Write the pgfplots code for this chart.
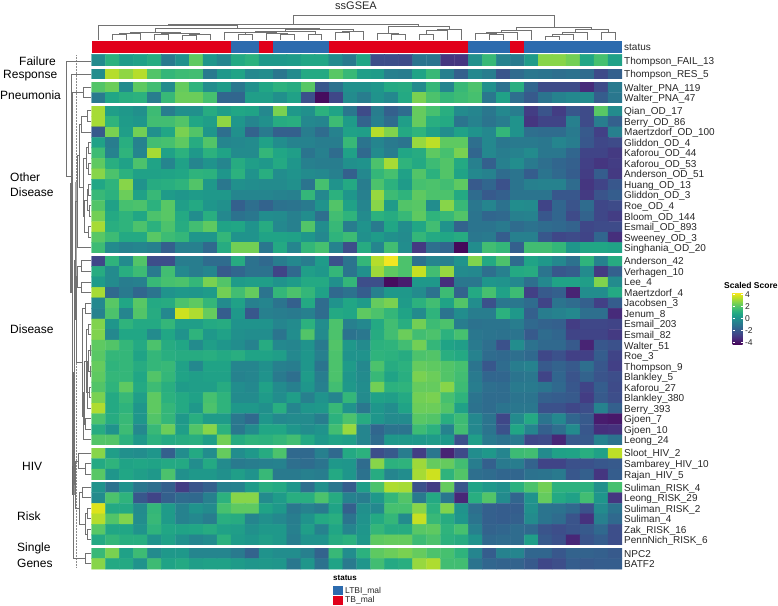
\documentclass[border=0pt]{standalone}
\usepackage{pgfplots}
\pgfplotsset{compat=1.18}
\usepackage{fontspec}
\setmainfont{Liberation Sans}
\definecolor{tbred}{HTML}{E1001A}
\definecolor{ltbiblue}{HTML}{2C6BAE}
\definecolor{dendc}{HTML}{727272}
\tikzset{dend/.style={draw=dendc,line width=0.7pt,line join=miter}}
% top dendrogram bracket: x1,ybottom1,x2,ybottom2,ytop
\newcommand\br[5]{\draw[dend] (#1,#2)--(#1,#5)--(#3,#5)--(#3,#4);}
% left dendrogram bracket: y1,x1,y2,x2,xnode
\newcommand\lb[5]{\draw[dend] (#2,#1)--(#5,#1)--(#5,#3)--(#4,#3);}
\newcommand\rl[2]{\node[anchor=base west,inner sep=0pt,text=black!85,font=\fontsize{10}{12}\selectfont] at (624,{#1+3.7}) {#2};}
\newcommand\gl[3]{\node[anchor=west,inner sep=0pt,text=black,font=\fontsize{12}{14}\selectfont] at (#1,#2) {#3};}
\newcommand\RR{floor((\coordindex+0.1)/38)}
\newcommand\wg[1]{\fill[white] (90,#1) rectangle (623,{#1+2.66});}
\begin{document}
\begin{tikzpicture}
\begin{axis}[
  at={(0pt,0pt)},anchor=south west,
  scale only axis,width=778pt,height=605pt,
  xmin=0,xmax=778,ymin=0,ymax=605,y dir=reverse,
  hide axis,clip=false,
  colormap/viridis,point meta min=-4.35,point meta max=4.35,
  colorbar,
  colorbar style={
    at={(724pt,312.7pt)},anchor=north west,
    width=10pt,height=52.5pt,scale only axis,
    ytick={-4,-2,0,2,4},
    /pgf/number format/assume math mode=true,
    yticklabel style={font=\fontsize{8.5}{10}\selectfont,text=black!85,xshift=-1pt,
      /pgf/number format/fixed,/pgf/number format/assume math mode=true},
    yticklabel={\pgfmathprintnumber{\tick}},
    major tick length=2pt,
    tick style={white,line width=0.4pt},
    axis line style={draw=none},
  },
]
\path (0,0) rectangle (778,605);
% heat map: 47 signatures x 38 samples, read row by row
\addplot[matrix plot*,mesh/cols=38,point meta=explicit] table[row sep=\\,header=false,meta index=0,
  x expr={98.48+13.96*(\coordindex-38*\RR)},
  y expr={60.9+10.53*\RR+2.65*((\RR>=1)+(\RR>=2)+(\RR>=4)+(\RR>=18)+(\RR>=36)+(\RR>=39)+(\RR>=45))}]{
-0.2\\1.2\\0.4\\0.6\\1.0\\-0.8\\0\\2.2\\0.2\\-0.4\\0.9\\1.2\\0.3\\0.3\\0.4\\0.8\\0.8\\-0.2\\-0.8\\0.8\\-2.3\\-2.3\\-2.4\\-1.0\\-1.0\\-3\\-3\\0\\1.5\\-0.5\\-0.8\\0.4\\2.8\\2.8\\2.5\\0.8\\1.8\\0.6\\
-0.1\\3.4\\2.9\\3.4\\2.0\\1.4\\1.6\\1.7\\-0.8\\0.3\\0.7\\-0.3\\-0.1\\-0.9\\-0.2\\0.9\\0.9\\2.1\\1.5\\0.5\\0.4\\-0.6\\-0.7\\0.7\\1.5\\-0.6\\-1.7\\-0.3\\-0.7\\-2.1\\-1.3\\-0.9\\-1\\-1.2\\-1.1\\-1.3\\-2.4\\-1.7\\
2.0\\2.4\\-0.2\\2.2\\1.7\\-0.2\\2.3\\1.3\\-0.1\\0.4\\-0.9\\0\\0.8\\1.2\\1.0\\2.1\\-2.0\\-1.1\\0\\0\\0.2\\0.9\\1.0\\-0.2\\1.4\\-0.4\\1.5\\1.9\\0\\-1.1\\1.1\\-1.5\\-2.4\\-2.4\\-2.4\\-3.3\\-2.4\\-0.8\\
-0.8\\0.8\\1.1\\1.2\\-0.7\\1.5\\2.4\\2.4\\1.8\\-1.5\\-1.5\\0.5\\0.5\\0\\0.6\\-2.2\\-4.1\\-2.5\\-0.2\\-0.7\\0.1\\-0.3\\0.9\\2.6\\1.9\\1.4\\1.6\\1.8\\-0.9\\0.6\\-1.2\\-1.9\\-1.0\\-0.5\\-0.3\\-0.2\\-1.8\\-0.9\\
3.2\\0.5\\0.3\\0\\1.6\\-0.7\\0\\0\\1.0\\0.5\\0.8\\0.7\\-0.3\\2.6\\0.3\\0\\1.2\\0.7\\-0.9\\-2.4\\-0.7\\-1.7\\-1.3\\2.3\\1.8\\1.1\\-0.2\\-0.4\\-0.9\\-0.3\\-0.7\\-2.8\\-2.1\\-2.8\\-2\\-2.4\\2.1\\-0.2\\
3.2\\1.3\\0.4\\0.2\\1.7\\1.7\\2.0\\0.8\\0.5\\2.9\\0.2\\-0.4\\0\\1\\1.1\\-0.3\\-0.4\\1.6\\0.4\\-1.6\\-0.6\\-1.3\\0.5\\2.3\\1.1\\0.9\\-1\\-0.5\\-1\\-0.7\\0.1\\-3\\-2.6\\-2.6\\-0.6\\-2.4\\-0.7\\-1.7\\
-1.9\\2.6\\0.5\\2.5\\0\\0.8\\2.6\\2.0\\0.2\\-1.2\\0\\-1.6\\-0.8\\-1.7\\-1.7\\-0.7\\-1.3\\-0.5\\0.6\\0.5\\3.4\\2.7\\0.9\\1.3\\0.6\\-0.1\\0.6\\0.1\\-0.3\\1.4\\0.1\\-1.2\\-1.3\\-1.3\\-0.8\\-1.9\\-2.7\\-0.6\\
0.6\\-0.7\\1.1\\-0.5\\1.7\\1.8\\2.2\\1.0\\2.0\\-0.4\\-0.3\\-0.2\\0.6\\-0.1\\-0.5\\-0.5\\-0.7\\-0.7\\1.5\\-1\\-0.4\\-0.8\\-1.0\\3.0\\3.5\\2.2\\2.2\\-1.2\\-0.3\\-0.9\\-0.8\\-0.8\\-0.9\\-0.4\\-0.7\\-2.0\\-2.5\\-2.4\\
1.6\\-0.5\\1.3\\-0.4\\3.2\\0.6\\1.2\\0.3\\1.2\\0.7\\-0.2\\-0.2\\1.4\\0.8\\0.5\\-1\\-0.6\\-1.3\\0.6\\-1.4\\-0.2\\-0.7\\0.8\\1.0\\2.2\\1.8\\2.6\\-1.5\\-0.3\\-0.7\\-0.5\\-0.2\\-0.9\\-0.9\\-1.5\\-2.6\\-2.6\\-2.9\\
2.2\\1.1\\0.6\\1.9\\0.7\\-0.4\\0.6\\-0.4\\0.1\\-0.4\\1.0\\0.5\\0.3\\0.9\\0.2\\-0.6\\-0.7\\-0.7\\0\\0.1\\1.9\\3.2\\1.3\\0.9\\1.6\\2\\0.9\\-0.6\\-1.7\\-0.6\\-0.1\\-0.8\\-1.2\\-1.5\\-1.7\\-2.7\\-3\\-2.8\\
2.8\\1.9\\1.2\\0.6\\0.6\\0.7\\0.8\\1.3\\1.2\\0.2\\1.2\\0.1\\1.1\\-0.1\\0.1\\-0.2\\-0.3\\-0.6\\-1.7\\-0.3\\1.4\\1.8\\0.6\\2.0\\1.2\\2\\0.7\\-0.3\\-0.5\\-1.3\\-1\\-1.8\\-1.0\\-1.4\\-1.8\\-2.8\\-1.8\\-2.9\\
0.8\\1.3\\2.8\\0.1\\1\\1.1\\1.3\\2.0\\0.3\\-0.9\\0\\-0.1\\-0.2\\-0.2\\0\\-1\\1.8\\0.1\\0.9\\-0.7\\1.9\\1.2\\0.4\\1.8\\1.9\\1.7\\2.2\\-1.9\\-1.5\\-2.2\\-1\\-0.6\\-0.5\\-0.5\\-1.3\\-3\\-2.6\\-2.0\\
1.5\\1.2\\2.4\\0.6\\1.5\\0.4\\0.2\\0.4\\0.3\\0.3\\-0.4\\-0.4\\-0.4\\-0.5\\-0.6\\1.4\\-0.3\\1.2\\0.2\\-0.6\\3.0\\1.6\\1.3\\2.2\\1.9\\1.9\\0.9\\-1.3\\-1.9\\-1.7\\-1\\-1.0\\-1\\-2\\-2\\-2.9\\-2.1\\-1.8\\
2.0\\0.6\\1.8\\1.9\\1.2\\2.1\\0.5\\0.9\\0.2\\0\\-1.7\\-1.2\\-1.6\\-1.1\\-1.0\\-0.8\\0.1\\2.0\\0.6\\-0.4\\2.8\\0.4\\2\\2.1\\-0.1\\2.8\\1.5\\-0.9\\-0.4\\-1.1\\-0.1\\-0.2\\-2.6\\-1.5\\-2.1\\-1.3\\-2.5\\-2.4\\
2.5\\0.9\\1.3\\0.8\\1.9\\2.1\\0.9\\-0.1\\1.1\\-0.3\\-1.1\\-0.9\\-0.1\\-0.2\\-0.6\\-0.1\\-1.2\\1.7\\1.3\\-0.2\\1.2\\1.0\\1.5\\2.2\\1.3\\1.5\\2\\-1\\-1.5\\-1.4\\-0.6\\-0.5\\-2\\-1.5\\-2.4\\-1.6\\-2.5\\-2.8\\
3.2\\1.1\\1.3\\1.9\\1.2\\1.9\\1.0\\1.7\\2.2\\0.7\\0.8\\0.1\\1.0\\-0.3\\-0.6\\2\\-0.1\\1.5\\-0.7\\0.1\\-0.8\\0.8\\-0.1\\0.8\\1.7\\0.1\\-1.6\\-1.0\\-1.0\\-0.8\\-1.3\\-1.1\\-1.3\\-1.4\\-1.6\\-2.5\\-2.4\\-2.4\\
2.1\\1.6\\0.9\\0.9\\2.1\\1.6\\1.4\\0.2\\0.2\\1.4\\0.1\\0.1\\0.7\\0.7\\0.6\\0.2\\-0.3\\1.3\\1.6\\0\\0.4\\0\\-0.2\\1.4\\0.9\\0.8\\1\\-0.9\\-0.8\\-1.8\\-0.6\\-0.6\\-2\\-2.5\\-2.4\\-2.6\\-1.5\\-3.2\\
1.6\\-0.2\\-0.5\\-0.4\\-0.6\\-1.7\\-0.6\\-0.6\\-1.4\\1.0\\2.5\\2.5\\-0.9\\0.9\\-0.4\\1.4\\1.8\\-0.5\\-2.3\\1.0\\-0.4\\1.7\\-0.1\\-2.9\\-1.2\\-1.5\\-4.2\\-0.1\\1.7\\1.4\\-1.7\\1.7\\1.7\\1.4\\0.2\\0.8\\0.8\\0.7\\
-2.5\\1.3\\-0.2\\2.0\\-2.3\\-2.3\\-0.7\\-0.7\\-1.3\\-1.3\\1.0\\-1.1\\-1.4\\-0.7\\-0.3\\-0.7\\0.4\\-2.2\\-1\\1.4\\3.4\\4.2\\1.9\\-1.1\\-0.4\\-0.6\\0.1\\2.7\\0.9\\1.9\\-1.3\\0.7\\0.3\\-0.3\\-1.1\\1.3\\-0.5\\1.0\\
1\\-0.2\\1.1\\1.6\\-0.8\\1.7\\-0.3\\-0.7\\-0.4\\-1.9\\-1.5\\-1.1\\-1.1\\-2.6\\-1.4\\0.5\\0.3\\1.4\\-1\\0\\3.1\\2.2\\1.9\\3.6\\1.7\\3.0\\-0.2\\-0.3\\-1.2\\-0.6\\0.9\\1.0\\-1.0\\-2\\-1.8\\-0.2\\-2.9\\-1.7\\
0.4\\-0.2\\-0.7\\-0.6\\1.5\\1.8\\1.9\\1.4\\2.6\\2.0\\0.4\\0.5\\0.5\\0.1\\0.4\\0.9\\0.9\\0\\1.4\\-2.3\\-2.3\\-4.1\\-3.7\\0.3\\0.3\\-3.2\\-0.9\\-0.9\\0.2\\0.1\\-0.3\\-1.2\\-0.3\\0.7\\0.7\\0.5\\2.7\\-0.2\\
3.2\\-1.4\\-0.8\\-1.5\\-1.0\\0.1\\0.3\\0.2\\0.4\\2.5\\1.7\\2.3\\-1\\1.4\\1.9\\1.4\\0.6\\-1.4\\-1.1\\-1.8\\-0.6\\0.3\\0.3\\-0.2\\-1.1\\1.6\\-1.6\\0.9\\1.8\\0.6\\1.6\\-2.7\\-1.9\\-1.7\\-3.5\\-0.1\\-0.1\\0.9\\
-0.3\\2.1\\0.8\\2.1\\0.9\\1\\1.9\\2.2\\1.4\\-0.2\\0.6\\-0.6\\-0.4\\-1\\-1.7\\0.9\\-1.3\\0.1\\0.8\\0.4\\2.3\\2.6\\0.4\\1.2\\1.7\\0.7\\2.0\\-0.1\\-2.2\\-0.9\\-0.9\\-1.3\\-2.6\\-1\\-1.3\\-1.7\\-2.7\\-1.8\\
-0.5\\1.9\\-0.4\\2.0\\1\\-0.3\\3.7\\3.3\\2.3\\-1.8\\0.3\\-2.0\\-0.6\\-0.7\\-0.8\\-0.6\\-1.3\\0.9\\0.8\\2.2\\1.9\\1.4\\0.7\\-0.2\\1.3\\-1\\-0.1\\-0.7\\-0.7\\1.2\\0.3\\-1.7\\-0.7\\-0.5\\-0.3\\-1.2\\-1.2\\-3.3\\
2.7\\0.2\\1.3\\0.9\\0.9\\1.4\\0.5\\0.5\\0.9\\1\\0.1\\0.1\\0.1\\-0.4\\-0.2\\1.2\\-0.1\\1.9\\-0.6\\-0.3\\0.9\\1.7\\1.1\\2.5\\1.6\\1.9\\-0.7\\-1.1\\-1\\-1.0\\-0.7\\-1.4\\-1.6\\-1.7\\-2.8\\-2.5\\-2.5\\-2.6\\
2.7\\-0.3\\0.8\\0.8\\-0.2\\0.8\\0.1\\1.3\\0.3\\0.6\\0\\-0.1\\-0.1\\-1\\-0.1\\2.0\\-0.2\\1.9\\-1.1\\-0.9\\1\\1.7\\2.4\\1.7\\1.9\\1.2\\1.8\\-0.9\\-1\\-1.1\\-1\\-1.9\\-1.3\\-1.5\\-2.6\\-2.6\\-2.6\\-2.9\\
2.2\\2.0\\1.4\\0.9\\1.9\\1.0\\0.8\\-0.2\\0.5\\0.2\\-0.1\\-0.5\\1.0\\-0.3\\-0.4\\0.1\\-0.8\\2.0\\0.3\\-0.2\\1.2\\1.3\\1.7\\2.5\\1.4\\0.7\\0.5\\-0.8\\-1.2\\-2.2\\-0.1\\-1.1\\-1.4\\-1.4\\-1.9\\-3.5\\-2\\-2.2\\
2.1\\1.4\\1.4\\0.7\\1.4\\1.1\\1\\1\\1.1\\0.9\\1.1\\0.7\\0.7\\0.5\\-0.3\\0.2\\-0.6\\1.9\\0.1\\0.1\\1.3\\1.2\\1.0\\1.9\\2.0\\1.1\\0.9\\-0.5\\-1.3\\-1.4\\-1.2\\-1.4\\-2.5\\-2.2\\-2.7\\-2.7\\-1.8\\-2.6\\
2.3\\1.3\\1.4\\1\\1.4\\1.5\\0.6\\-0.3\\0.7\\0.7\\-0.4\\-0.4\\0\\-0.6\\-0.7\\0.2\\-1\\1.9\\0.4\\-0.3\\1.9\\1.0\\1.2\\2.3\\2.2\\2.0\\1.8\\-1\\-2\\-1.3\\-0.7\\-0.5\\-1.9\\-1.6\\-1.9\\-1.2\\-2\\-2.7\\
2.2\\1.4\\1.4\\0.8\\2\\1.4\\0.7\\0.5\\0.6\\0.6\\-0.5\\-0.4\\0.1\\-0.8\\-1.2\\0.4\\-0.7\\1.9\\0.2\\-0.2\\1.5\\0.7\\1.1\\2.6\\2.4\\2\\1.7\\-0.8\\-1.5\\-1.5\\-1\\-0.9\\-2.6\\-1.5\\-2.1\\-1.6\\-2.1\\-2.3\\
2.0\\1.3\\2.2\\0.9\\1.6\\1.1\\0.4\\0.5\\0.5\\1.0\\-0.1\\-0.3\\0.6\\-0.2\\-0.6\\0.2\\-0.6\\1.7\\0.3\\-0.1\\2.5\\1.2\\1.3\\2.3\\2.3\\2.8\\1.6\\-0.7\\-1.2\\-1.3\\-0.8\\-0.8\\-1.0\\-1.4\\-2.0\\-2.6\\-1.8\\-2.4\\
2.6\\0.9\\1.5\\0.5\\2.2\\1.2\\0.9\\0.6\\1.8\\1.3\\-0.2\\-0.2\\0.4\\-0.1\\0.5\\-0.6\\0.1\\-0.4\\1.4\\-0.2\\0.6\\0.5\\0.9\\2.5\\2.6\\1.8\\1.3\\-1\\-1.3\\-1.3\\-1\\-1\\-1.7\\-1.8\\-1.9\\-2.8\\-1.9\\-2.3\\
3.3\\0.9\\1.3\\0.2\\2.2\\1.4\\0.9\\0.3\\1.9\\1.3\\0.3\\0.3\\0\\1.1\\-0.4\\0.2\\0.3\\1.5\\0.1\\-0.9\\0.2\\-0.1\\0.7\\2.4\\2.4\\2.0\\0.6\\-1.1\\-1.3\\-1\\-0.9\\-0.9\\-2.2\\-2.2\\-2.5\\-2.3\\-0.5\\-1.7\\
1.9\\1\\1.5\\0.2\\2\\1.4\\0.3\\1.1\\0.4\\0.4\\-0.9\\-1.4\\0.2\\-0.3\\-0.2\\-0.2\\-0.7\\1.2\\1.9\\1.0\\0.2\\-0.2\\-0.2\\2.1\\2\\1.1\\1.6\\-0.3\\-1\\-2.5\\-0.2\\0.9\\-1\\-0.3\\-1.5\\-1.9\\-3.7\\-3.8\\
1\\0.1\\1.6\\-0.3\\1.5\\2.4\\0.5\\2\\2.8\\1.2\\-0.9\\-0.2\\0.8\\0.8\\0.2\\-0.1\\0.1\\1.7\\3.0\\-0.4\\-1.5\\-1\\-1\\1.6\\1.2\\-0.5\\1.7\\-0.3\\-1\\-2.2\\0.8\\-0.4\\-1.7\\-1.2\\-0.2\\-2\\-3.2\\-3.1\\
2.0\\2\\1.2\\0.3\\1.2\\0.9\\1.0\\1.1\\0.5\\2.5\\1.0\\1.3\\1.2\\1.4\\1.7\\0.9\\0.3\\0.7\\0.5\\-0.4\\-1.3\\0.3\\0.3\\0.3\\0.4\\0.3\\-2.2\\0.5\\-0.8\\-1.1\\-0.8\\-2.5\\-2.4\\-3.4\\-1.9\\-1.9\\-0.5\\-1.1\\
2.8\\0.5\\0\\-0.1\\0.2\\-1.7\\-0.1\\0.9\\-0.1\\2.3\\-0.1\\0.3\\1.0\\1.9\\-1.4\\-1.4\\-0.6\\-1.4\\0.9\\1.2\\-2.3\\-1.9\\-0.7\\-2.8\\-0.9\\-3.5\\-2.4\\-0.1\\0.3\\-0.4\\1.6\\1.7\\-0.2\\0.6\\0.7\\1.1\\0.6\\3.5\\
0.9\\1.3\\0.7\\0.8\\0.7\\0.9\\0.9\\-0.1\\0.9\\-0.2\\-0.8\\-0.7\\-0.6\\-0.5\\-1.2\\-1.3\\-1.0\\0.3\\0.2\\-1.3\\2.8\\1.2\\1.3\\3.1\\2.3\\2.3\\1.7\\-0.7\\-1.7\\-0.8\\-0.7\\-1.6\\-2.6\\-2.6\\-2.2\\-2.2\\-2.0\\-1.9\\
2.1\\0.2\\0.8\\0.5\\0.3\\1.9\\0\\0.3\\0.3\\0\\0.5\\0.1\\1.5\\-0.8\\-0.8\\-0.6\\-0.7\\0.9\\0.2\\-1.1\\1\\-0.4\\-0.1\\3.2\\3.7\\1.3\\2\\-1.2\\-1.3\\-1.5\\-1.5\\-1.1\\-1\\-0.8\\-2\\-1.7\\-3\\-1.8\\
0.1\\-1.1\\0.1\\-0.9\\-1.2\\-1.7\\-2.8\\-2.1\\-1.7\\-0.6\\-0.5\\0.4\\1.1\\0.9\\0.2\\-1.2\\0\\-0.9\\-1.8\\0.5\\1.9\\3.3\\3.2\\-2.2\\-2.8\\2.3\\-2.0\\0.7\\0.3\\0\\1.2\\1.9\\2.5\\1.2\\1.2\\1.2\\0\\1.8\\
-0.2\\1.9\\1.3\\-2.0\\-2.6\\-1.7\\-1.3\\-1.4\\-0.6\\1.2\\2.8\\2.8\\-0.2\\0.4\\1.1\\1.1\\1.9\\1\\-0.5\\-0.7\\0.3\\1.4\\2.0\\-0.8\\0.9\\-0.9\\-3.4\\1.1\\2.0\\-0.2\\-1.5\\0.1\\2.3\\0.9\\0.6\\1.7\\0.2\\-3\\
3.9\\0.9\\0.9\\-0.2\\1.4\\0.4\\-0.5\\0.1\\-0.2\\1.8\\2.2\\2.2\\0.7\\0.3\\-0.9\\-0.5\\-0.8\\0.7\\-1.7\\0\\-0.3\\1.8\\1.8\\2.8\\1.2\\2.7\\0.1\\-1.2\\-1.7\\-1.8\\-1.8\\0\\-1\\-1.1\\-1.4\\-2.2\\-0.2\\-1.1\\
3.4\\2\\2.7\\-0.1\\1.5\\0.4\\-0.5\\-0.3\\-0.7\\1.1\\1.0\\-0.4\\0\\-0.3\\-0.7\\0.1\\0.9\\1.1\\-1\\0.1\\0.9\\1.4\\-0.2\\3.6\\1.5\\1.0\\0.2\\-1\\-1.7\\-1.8\\-1.7\\-0.2\\-1\\-1.3\\-2.1\\-3.1\\-0.6\\-1.4\\
2.1\\0.8\\0.8\\0.1\\1.3\\0.8\\0.7\\0.8\\1\\0.6\\0.5\\0\\0.3\\0.3\\-0.6\\0.5\\-0.5\\0.8\\-0.4\\0.2\\1.4\\1.0\\1.0\\2.1\\2.2\\1.3\\1.8\\-0.6\\-1.6\\-1.5\\-1.3\\-1.4\\-2.1\\-2.3\\-2.1\\-1.9\\-1.4\\-2.3\\
0.9\\1.4\\1.1\\1.1\\0.1\\0.6\\0\\-0.4\\-0.2\\1.2\\0.4\\0.2\\0.5\\0.3\\-0.7\\0.1\\0.1\\1\\1.2\\0.3\\2.2\\2.3\\2.3\\1.6\\1.9\\1.2\\1.0\\0.1\\-1.4\\-1.3\\-1.3\\0.5\\-1.9\\-2.2\\-3.4\\-2.1\\-1.8\\-2.3\\
1.5\\2.6\\0.6\\1.6\\-0.2\\0.3\\0.3\\-0.4\\-0.4\\-0.4\\-0.8\\-1.6\\0.1\\-0.1\\-0.1\\-0.6\\-1.6\\1.5\\-0.1\\1.2\\2.2\\2.4\\2.6\\2.3\\1.9\\1.8\\1.3\\-0.4\\-1.8\\-0.5\\-0.4\\-1.5\\-1.5\\-2\\-1.6\\-1.6\\-1.7\\-1.9\\
2.8\\0.9\\0.9\\0.1\\1.6\\0.7\\0.9\\0.5\\0.6\\0.6\\0.4\\0.2\\0.3\\0.2\\-0.9\\0.2\\-1.1\\0.7\\-0.8\\0.2\\1.7\\0.9\\1.1\\3.0\\3.3\\1.7\\1.7\\-1\\-1.5\\-1.6\\-1.6\\-1.9\\-2.5\\-2.3\\-1.8\\-1.9\\-1.8\\-1.8\\
};
% white gaps between signature groups
\wg{66.12}
\wg{79.27}
\wg{103.07}
\wg{253.12}
\wg{445.31}
\wg{479.55}
\wg{545.37}
% status bar
\addplot[fill=tbred,draw=none] coordinates {(91.5,40.5)(231.1,40.5)(231.1,52.7)(91.5,52.7)} --cycle;
\addplot[fill=ltbiblue,draw=none] coordinates {(231.1,40.5)(259,40.5)(259,52.7)(231.1,52.7)} --cycle;
\addplot[fill=tbred,draw=none] coordinates {(259,40.5)(273,40.5)(273,52.7)(259,52.7)} --cycle;
\addplot[fill=ltbiblue,draw=none] coordinates {(273,40.5)(328.8,40.5)(328.8,52.7)(273,52.7)} --cycle;
\addplot[fill=tbred,draw=none] coordinates {(328.8,40.5)(468.4,40.5)(468.4,52.7)(328.8,52.7)} --cycle;
\addplot[fill=ltbiblue,draw=none] coordinates {(468.4,40.5)(510.3,40.5)(510.3,52.7)(468.4,52.7)} --cycle;
\addplot[fill=tbred,draw=none] coordinates {(510.3,40.5)(524.2,40.5)(524.2,52.7)(510.3,52.7)} --cycle;
\addplot[fill=ltbiblue,draw=none] coordinates {(524.2,40.5)(622,40.5)(622,52.7)(524.2,52.7)} --cycle;
% top dendrogram
\def\B{39.5}
\br{112.4}{\B}{126.4}{\B}{34.3}
\br{119.4}{34.3}{140.4}{\B}{33.3}
\br{154.3}{\B}{168.3}{\B}{34.3}
\br{182.2}{\B}{196.2}{\B}{35}
\br{189.2}{35}{210.2}{\B}{34}
\br{161.3}{34.3}{199.7}{34}{33}
\br{129.9}{33.3}{180.5}{33}{32}
\br{238.1}{\B}{252}{\B}{34}
\br{224.1}{\B}{245.05}{34}{32.7}
\br{280}{\B}{293.9}{\B}{34.3}
\br{266}{\B}{287}{34.3}{33.3}
\br{234.6}{32.7}{276.5}{33.3}{32}
\br{307.9}{\B}{321.8}{\B}{34}
\br{255.5}{32}{314.9}{34}{31.3}
\br{335.8}{\B}{349.8}{\B}{32.7}
\br{342.8}{32.7}{363.7}{\B}{31}
\br{285.2}{31.3}{353.3}{31}{29}
\br{155.2}{32}{319.2}{29}{28.3}
\br{98.5}{\B}{237.2}{28.3}{25}
\br{391.6}{\B}{405.6}{\B}{34.3}
\br{377.7}{\B}{398.6}{34.3}{33}
\br{419.5}{\B}{433.5}{\B}{34.3}
\br{426.5}{34.3}{447.5}{\B}{30.7}
\br{437}{30.7}{461.4}{\B}{29.3}
\br{388.1}{33}{449.2}{29.3}{26}
\br{167.9}{25}{418.7}{26}{24.6}
\br{489.3}{\B}{503.3}{\B}{34}
\br{475.4}{\B}{496.3}{34}{33.3}
\br{485.9}{33.3}{517.3}{\B}{32}
\br{501.6}{32}{531.2}{\B}{30.7}
\br{545.2}{\B}{559.2}{\B}{36}
\br{552.2}{36}{573.1}{\B}{34.7}
\br{562.7}{34.7}{587.1}{\B}{32.7}
\br{601}{\B}{615}{\B}{32.7}
\br{574.9}{32.7}{608}{32.7}{29.3}
\br{516.4}{30.7}{591.5}{29.3}{27.7}
\br{293.3}{24.6}{554}{27.7}{15}
% left dendrogram
\draw[densely dotted,draw=black!45,line width=0.5pt] (76.7,55)--(76.7,567);
\draw[draw=black!35,line width=2pt] (76.3,182)--(76.3,295);
\draw[draw=black!55,line width=1.6pt] (71.2,183)--(71.2,293);
\draw[draw=black!45,line width=1.6pt] (74.3,352)--(74.3,495);
\draw[draw=black!60,line width=1.6pt] (72.4,400)--(72.4,495);
\lb{87.2}{91}{97.7}{91}{83.3}
\lb{110.8}{91}{121.3}{91}{87}
\lb{116}{87}{131.9}{91}{81.7}
\lb{142.4}{91}{152.9}{91}{88.5}
\lb{163.5}{91}{174}{91}{88.5}
\lb{147.6}{88.5}{168.7}{88.5}{86}
\lb{184.5}{91}{195}{91}{88.5}
\lb{205.6}{91}{216.1}{91}{89}
\lb{189.8}{88.5}{210.8}{89}{87}
\lb{226.6}{91}{237.2}{91}{88.5}
\lb{200.3}{87}{231.9}{88.5}{84.5}
\lb{158.2}{86}{216.1}{84.5}{83.5}
\lb{124}{81.7}{187.2}{83.5}{79.5}
\lb{155.6}{79.5}{247.7}{91}{77.3}
\lb{260.8}{91}{271.4}{91}{81}
\lb{281.9}{91}{292.4}{91}{81}
\lb{266.1}{81}{287.2}{81}{77.7}
\lb{303}{91}{313.5}{91}{85}
\lb{324}{91}{334.6}{91}{88.5}
\lb{345.1}{91}{355.6}{91}{90}
\lb{366.1}{91}{376.7}{91}{90}
\lb{350.4}{90}{371.4}{90}{88.8}
\lb{387.2}{91}{397.7}{91}{89.5}
\lb{360.9}{88.8}{392.5}{89.5}{87.8}
\lb{376.7}{87.8}{408.3}{91}{87}
\lb{329.3}{88.5}{392.5}{87}{86}
\lb{418.8}{91}{429.3}{91}{85.7}
\lb{360.9}{86}{424}{85.7}{84.5}
\lb{392.5}{84.5}{439.8}{91}{83}
\lb{308.2}{85}{416}{83}{82}
\lb{276.6}{77.7}{362.1}{82}{76.7}
\lb{201.6}{77.3}{319.4}{76.7}{75.8}
\lb{463.5}{91}{474}{91}{85.7}
\lb{453}{91}{468.8}{85.7}{78.3}
\lb{487.1}{91}{497.7}{91}{82}
\lb{508.2}{91}{518.7}{91}{87.3}
\lb{529.3}{91}{539.8}{91}{87.3}
\lb{513.4}{87.3}{534.5}{87.3}{85}
\lb{492.4}{82}{524}{85}{79.5}
\lb{460.9}{78.3}{508.2}{79.5}{75}
\lb{260.5}{75.8}{484.6}{75}{74.3}
\lb{552.9}{91}{563.5}{91}{85.7}
\lb{372.5}{74.3}{558.2}{85.7}{73.4}
\lb{92.4}{83.3}{465.4}{73.4}{72.4}
\lb{74}{91}{279}{72.4}{71.2}
\lb{60.9}{91}{176.5}{71.2}{66}
% texts
\node[inner sep=0pt,text=black!85,font=\fontsize{11}{13}\selectfont] at (356,5.5) {ssGSEA};
\rl{47}{status}
\rl{61.1}{Thompson\_FAIL\_13}
\rl{74.2}{Thompson\_RES\_5}
\rl{87.3}{Walter\_PNA\_119}
\rl{97.8}{Walter\_PNA\_47}
\rl{111}{Qian\_OD\_17}
\rl{121.5}{Berry\_OD\_86}
\rl{132}{Maertzdorf\_OD\_100}
\rl{142.6}{Gliddon\_OD\_4}
\rl{153.1}{Kaforou\_OD\_44}
\rl{163.6}{Kaforou\_OD\_53}
\rl{174.2}{Anderson\_OD\_51}
\rl{184.7}{Huang\_OD\_13}
\rl{195.2}{Gliddon\_OD\_3}
\rl{205.7}{Roe\_OD\_4}
\rl{216.3}{Bloom\_OD\_144}
\rl{226.8}{Esmail\_OD\_893}
\rl{237.3}{Sweeney\_OD\_3}
\rl{247.9}{Singhania\_OD\_20}
\rl{261}{Anderson\_42}
\rl{271.6}{Verhagen\_10}
\rl{282.1}{Lee\_4}
\rl{292.6}{Maertzdorf\_4}
\rl{303.2}{Jacobsen\_3}
\rl{313.7}{Jenum\_8}
\rl{324.2}{Esmail\_203}
\rl{334.8}{Esmail\_82}
\rl{345.3}{Walter\_51}
\rl{355.8}{Roe\_3}
\rl{366.3}{Thompson\_9}
\rl{376.9}{Blankley\_5}
\rl{387.4}{Kaforou\_27}
\rl{397.9}{Blankley\_380}
\rl{408.5}{Berry\_393}
\rl{419}{Gjoen\_7}
\rl{429.5}{Gjoen\_10}
\rl{440}{Leong\_24}
\rl{453.2}{Sloot\_HIV\_2}
\rl{463.8}{Sambarey\_HIV\_10}
\rl{474.3}{Rajan\_HIV\_5}
\rl{487.5}{Suliman\_RISK\_4}
\rl{498}{Leong\_RISK\_29}
\rl{508.5}{Suliman\_RISK\_2}
\rl{519}{Suliman\_4}
\rl{529.6}{Zak\_RISK\_16}
\rl{540.1}{PennNich\_RISK\_6}
\rl{553.3}{NPC2}
\rl{563.8}{BATF2}
\gl{19}{61}{Failure}
\gl{3}{75.5}{Response}
\gl{0}{95}{Pneumonia}
\gl{10}{177}{Other}
\gl{10}{192}{Disease}
\gl{10}{329}{Disease}
\gl{22}{466.7}{HIV}
\gl{17}{516.7}{Risk}
\gl{17}{548.7}{Single}
\gl{17}{563.7}{Genes}
% legends
\node[anchor=west,inner sep=0pt,font=\fontsize{8.5}{10}\selectfont\bfseries] at (724,285) {Scaled Score};
\node[anchor=west,inner sep=0pt,font=\fontsize{8}{10}\selectfont\bfseries] at (333,578.3) {status};
\fill[ltbiblue] (333.3,586.3) rectangle (342.5,595);
\fill[tbred] (333.3,596) rectangle (342.5,604.5);
\node[anchor=west,inner sep=0pt,font=\fontsize{8.5}{10}\selectfont,text=black!85] at (345,590.8) {LTBI\_mal};
\node[anchor=west,inner sep=0pt,font=\fontsize{8.5}{10}\selectfont,text=black!85] at (345,600.3) {TB\_mal};
\end{axis}
\end{tikzpicture}
\end{document}
